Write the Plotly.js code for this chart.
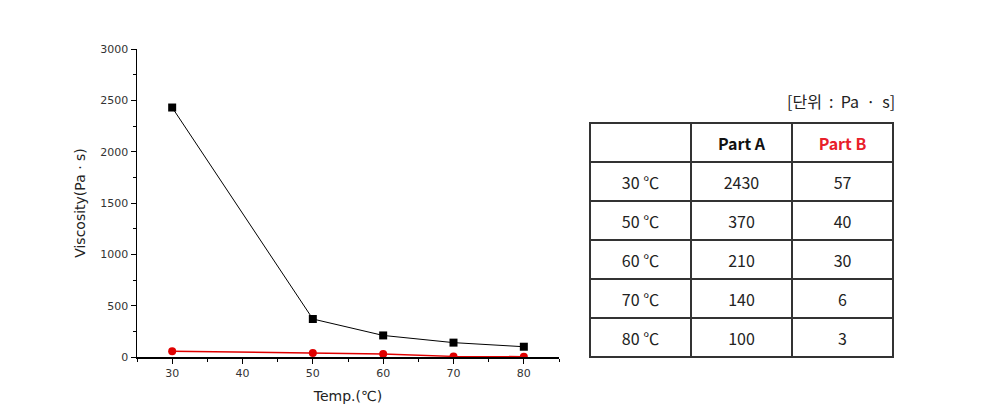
<!DOCTYPE html>
<html><head><meta charset="utf-8">
<script src="https://cdn.plot.ly/plotly-3.0.1.min.js"></script>
<style>html,body{margin:0;padding:0;background:#fff;}</style>
</head><body><div id="chart" style="width:991px;height:412px;"></div>
<script>
const temps = [30, 50, 60, 70, 80];
const partA = [2430, 370, 210, 140, 100];
const partB = [57, 40, 30, 6, 3];
const rowLabels = temps.map(t => t + ' ℃');
const headerLabels = ['', 'Part A', 'Part B'];
const unitLabel = '[단위  :  Pa  ·  s]';

const W = 991, H = 412;
const fx = p => p / W;
const fy = p => (H - p) / H;

const tFont = 'Noto Sans CJK KR, Noto Sans';
const aFont = 'DejaVu Sans, Verdana';
const cellVals = [rowLabels, partA.map(String), partB.map(String)];
const blank = cellVals.map(col => col.map(() => ''));

const traces = [
  {x: temps, y: partA, type: 'scatter', mode: 'lines+markers',
   line: {color: '#000', width: 1}, marker: {symbol: 'square', size: 8, color: '#000'}, showlegend: false},
  {x: temps, y: partB, type: 'scatter', mode: 'lines+markers',
   line: {color: '#e00000', width: 1.5}, marker: {symbol: 'circle', size: 8, color: '#e00000'}, showlegend: false},
  // grid of the table
  {type: 'table',
   domain: {x: [fx(590), fx(894)], y: [fy(365), fy(123)]},
   columnwidth: [1, 1, 1],
   header: {values: ['', '', ''], height: 39, fill: {color: '#fff'}, line: {color: '#333', width: 2}},
   cells: {values: blank, height: 39, fill: {color: '#fff'}, line: {color: '#333', width: 2}}},
  // text of the table, shifted down to sit in the middle of each cell
  {type: 'table',
   domain: {x: [fx(590), fx(894)], y: [fy(372), fy(130)]},
   columnwidth: [1, 1, 1],
   header: {values: headerLabels, height: 39, align: 'center',
     fill: {color: 'rgba(0,0,0,0)'}, line: {color: 'rgba(0,0,0,0)', width: 0},
     font: {family: tFont, size: 16, weight: 'bold', color: ['#111', '#111', '#e8202a']}},
   cells: {values: cellVals, height: 39, align: 'center',
     fill: {color: 'rgba(0,0,0,0)'}, line: {color: 'rgba(0,0,0,0)', width: 0},
     font: {family: tFont, size: 16, color: '#222'}}}
];

const layout = {
  width: W, height: H, margin: {l: 0, r: 0, t: 0, b: 0},
  paper_bgcolor: '#fff', plot_bgcolor: '#fff', showlegend: false,
  xaxis: {domain: [fx(137), fx(559)], range: [25, 85], tickvals: [30, 40, 50, 60, 70, 80],
    ticks: 'outside', ticklen: 5, tickwidth: 1, tickcolor: '#000',
    minor: {dtick: 5, ticks: 'outside', ticklen: 3, tickcolor: '#000', tick0: 25},
    showline: true, linecolor: '#000', linewidth: 1.5, showgrid: false, zeroline: false,
    tickfont: {family: aFont, size: 11, color: '#333'},
    title: {text: 'Temp.(℃)', font: {family: aFont, size: 14, color: '#222'}, standoff: 12}},
  yaxis: {domain: [fy(357), fy(49)], range: [0, 3000], tickvals: [0, 500, 1000, 1500, 2000, 2500, 3000],
    ticks: 'outside', ticklen: 5, tickwidth: 1, tickcolor: '#000',
    minor: {dtick: 250, ticks: 'outside', ticklen: 3, tickcolor: '#000'},
    showline: true, linecolor: '#000', linewidth: 1.5, showgrid: false, zeroline: false,
    tickfont: {family: aFont, size: 11, color: '#333'},
    title: {text: 'Viscosity(Pa · s)', font: {family: aFont, size: 14, color: '#222'}, standoff: 11}},
  annotations: [{text: unitLabel, xref: 'paper', yref: 'paper', x: fx(897), y: fy(101),
    xanchor: 'right', yanchor: 'middle', showarrow: false,
    font: {family: 'Noto Sans CJK KR', size: 16, color: '#222'}}]
};

Plotly.newPlot('chart', traces, layout, {displayModeBar: false, staticPlot: true});
</script></body></html>
